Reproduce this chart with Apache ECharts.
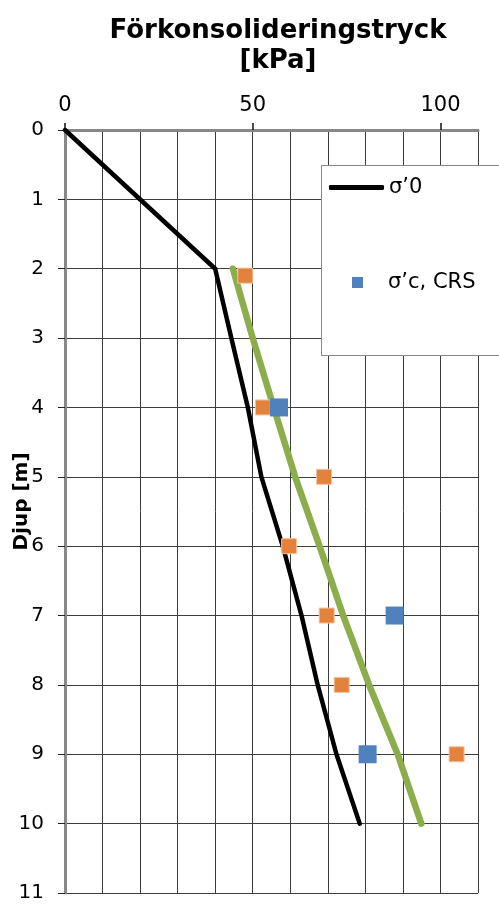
<!DOCTYPE html>
<html>
<head>
<meta charset="utf-8">
<script src="https://cdn.jsdelivr.net/npm/echarts@6/dist/echarts.min.js"></script>
<style>
html,body{margin:0;padding:0;background:#fff;}
#chart{width:499px;height:905px;}
</style>
</head>
<body>
<div id="chart"></div>
<script>
// Data
var titleText = 'Förkonsolideringstryck\n[kPa]';
var yAxisName = 'Djup [m]';
var xTickLabels = [0, 50, 100];
var sigma0Depth = [0, 2, 3, 4, 5, 6, 7, 8, 9, 10];
var sigma0Value = [0, 40, 44.3, 48.7, 52.3, 58, 63, 67.3, 72.3, 78.5];
var trendDepth = [2, 3, 4, 5, 6, 7, 8, 9, 10];
var trendValue = [44.7, 50, 55.6, 61.3, 67.8, 74.1, 81, 88.6, 94.9];
var orangeDepth = [2.1, 4, 5, 6, 7, 8, 9];
var orangeValue = [48, 52.7, 69, 59.7, 69.7, 73.7, 104.3];
var crsDepth = [4, 7, 9];
var crsValue = [57, 87.8, 80.6];
var nameSigma0 = 'σ’0';
var nameCRS = 'σ’c, CRS';

function pairs(vals, depths) {
  return vals.map(function (v, i) { return [v, depths[i]]; });
}

var chart = echarts.init(document.getElementById('chart'));
var font = 'DejaVu Sans';
var option = {
  backgroundColor: '#fff',
  animation: false,
  title: {
    text: titleText,
    left: 273,
    textAlign: 'center',
    top: 11,
    textStyle: { fontFamily: font, fontWeight: 'bold', fontSize: 26, lineHeight: 30, color: '#000' }
  },
  grid: { left: 65, top: 130, right: 21, bottom: 12, containLabel: false, outerBoundsMode: 'none' },
  xAxis: [{
    type: 'value', position: 'top', min: 0, max: 110, interval: 10,
    axisLine: { show: true, lineStyle: { color: '#111', width: 2 } },
    axisTick: { show: false },
    axisLabel: {
      show: true, margin: 14, fontFamily: font, fontSize: 21, color: '#000',
      formatter: function (v) { return xTickLabels.indexOf(v) >= 0 ? String(v) : ''; }
    },
    splitLine: { show: true, lineStyle: { color: '#3c3c3c', width: 1 } }
  }, {
    type: 'value', position: 'bottom', min: 0, max: 110,
    axisLine: { show: true, lineStyle: { color: '#888', width: 3 } },
    axisTick: { show: false }, axisLabel: { show: false }, splitLine: { show: false }
  }, {
    type: 'value', position: 'top', min: 0, max: 110, interval: 50,
    axisLine: { show: false },
    axisTick: { show: true, inside: false, length: 7, customValues: xTickLabels, lineStyle: { color: '#111', width: 1.5 } },
    axisLabel: { show: false }, splitLine: { show: false }
  }],
  yAxis: [{
    type: 'value', inverse: true, min: 0, max: 11, interval: 1,
    name: yAxisName, nameLocation: 'middle', nameGap: 33, nameRotate: 90, nameMoveOverlap: false,
    nameTextStyle: { fontFamily: font, fontWeight: 'bold', fontSize: 20, color: '#000', padding: [0, 0, 0, 20] },
    axisLine: { show: true, lineStyle: { color: '#808080', width: 2 } },
    axisTick: { show: true, inside: false, length: 7, lineStyle: { color: '#222', width: 1 } },
    axisLabel: { margin: 21, fontFamily: font, fontSize: 20, color: '#000' },
    splitLine: { show: true, lineStyle: { color: '#3c3c3c', width: 1 } }
  }, {
    type: 'value', inverse: true, min: 0, max: 11, position: 'right',
    axisLine: { show: true, lineStyle: { color: '#888', width: 3 } },
    axisTick: { show: false }, axisLabel: { show: false }, splitLine: { show: false }
  }],
  graphic: [{
    type: 'rect', z: 5,
    shape: { x: 321.5, y: 165.5, width: 200, height: 190 },
    style: { fill: '#fff', stroke: '#888', lineWidth: 1 }
  }],
  legend: [{
    z: 10, left: 329, top: 177, padding: 0,
    data: [{ name: nameSigma0, icon: 'roundRect' }], itemWidth: 55, itemHeight: 5, itemGap: 0,
    textStyle: { fontFamily: font, fontSize: 21, color: '#000' }
  }, {
    z: 10, left: 352, top: 272, padding: 0,
    data: [{ name: nameCRS, icon: 'rect' }], itemWidth: 11, itemHeight: 11,
    textStyle: { fontFamily: font, fontSize: 21, color: '#000', padding: [0, 0, 0, 20] }
  }],
  series: [{
    name: nameSigma0, type: 'line', symbol: 'none', z: 3,
    data: pairs(sigma0Value, sigma0Depth),
    lineStyle: { color: '#000', width: 4.5, cap: 'round', join: 'round' },
    itemStyle: { color: '#000' }
  }, {
    name: 'trend', type: 'line', symbol: 'none', z: 3,
    data: pairs(trendValue, trendDepth),
    lineStyle: { color: '#8BAD4B', width: 6.5, cap: 'round', join: 'round' },
    itemStyle: { color: '#8BAD4B' }
  }, {
    name: 'orange', type: 'scatter', symbol: 'rect', symbolSize: 15, z: 4,
    data: pairs(orangeValue, orangeDepth),
    itemStyle: { color: '#E3823C', borderColor: '#F2C3A0', borderWidth: 1, opacity: 1 }
  }, {
    name: nameCRS, type: 'scatter', symbol: 'rect', symbolSize: 18, z: 5,
    data: pairs(crsValue, crsDepth),
    itemStyle: { color: '#4F81BD', opacity: 1 }
  }]
};
chart.setOption(option);
</script>
</body>
</html>
